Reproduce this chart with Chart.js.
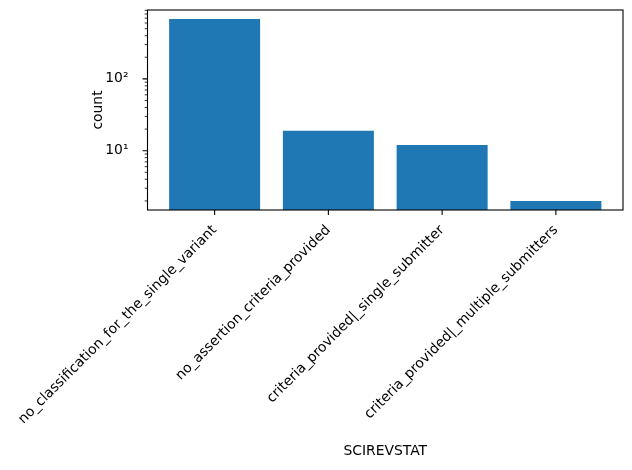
<!DOCTYPE html>
<html>
<head>
<meta charset="utf-8">
<script src="https://cdn.jsdelivr.net/npm/chart.js@4.4.0/dist/chart.umd.min.js"></script>
<style>
  html, body { margin: 0; padding: 0; background: #fff; }
  #wrap { width: 632px; height: 470px; }
</style>
</head>
<body>
<div id="wrap"><canvas id="countChart" width="632" height="470"></canvas></div>
<script>
const categories = [
  'no_classification_for_the_single_variant',
  'no_assertion_criteria_provided',
  'criteria_provided|_single_submitter',
  'criteria_provided|_multiple_submitters',
];
const counts = [680, 19, 12, 2];
const decadeLabels = { 10: '10¹', 100: '10²', 1000: '10³' };

// matplotlib-like limits: 5% margins (log space for y)
const xMin = -0.4 - 0.05 * (categories.length - 0.2);
const xMax = categories.length - 0.6 + 0.05 * (categories.length - 0.2);
const lo = Math.log10(Math.min(...counts));
const hi = Math.log10(Math.max(...counts));
const yMin = Math.pow(10, lo - 0.05 * (hi - lo));
const yMax = Math.pow(10, hi + 0.05 * (hi - lo));

function logTicks(min, max) {
  const out = [];
  for (let e = Math.floor(Math.log10(min)); e <= Math.ceil(Math.log10(max)); e++) {
    for (let m = 1; m < 10; m++) {
      const v = m * Math.pow(10, e);
      if (v >= min && v <= max) out.push({ value: v, major: m === 1 });
    }
  }
  return out;
}

const frame = {
  id: 'frame',
  afterDraw(chart) {
    const { ctx, chartArea: a } = chart;
    const x = chart.scales.x, y = chart.scales.y;
    ctx.save();
    ctx.strokeStyle = '#000';
    ctx.lineWidth = 1.1;
    ctx.strokeRect(a.left, a.top, a.right - a.left, a.bottom - a.top);
    ctx.beginPath();
    x.ticks.forEach(t => {
      const px = x.getPixelForValue(t.value);
      ctx.moveTo(px, a.bottom);
      ctx.lineTo(px, a.bottom + 4.9);
    });
    y.ticks.forEach(t => {
      if (!t.major) return;
      const py = y.getPixelForValue(t.value);
      ctx.moveTo(a.left, py);
      ctx.lineTo(a.left - 4.9, py);
    });
    ctx.stroke();
    ctx.lineWidth = 0.8;
    ctx.beginPath();
    y.ticks.forEach(t => {
      if (t.major) return;
      const py = y.getPixelForValue(t.value);
      ctx.moveTo(a.left, py);
      ctx.lineTo(a.left - 2.8, py);
    });
    ctx.stroke();
    ctx.restore();
  }
};

Chart.defaults.font.family = "'DejaVu Sans', sans-serif";
Chart.defaults.font.size = 13.9;
Chart.defaults.color = '#000';

new Chart(document.getElementById('countChart'), {
  type: 'bar',
  data: {
    datasets: [{
      data: counts.map((v, i) => ({ x: i, y: v })),
      backgroundColor: '#1f77b4',
      barPercentage: 0.8,
      categoryPercentage: 1.0,
    }],
  },
  options: {
    responsive: false,
    animation: false,
    layout: { padding: { top: 10, right: 9, left: 0, bottom: 0 } },
    plugins: { legend: { display: false }, tooltip: { enabled: false } },
    scales: {
      x: {
        type: 'linear',
        offset: false,
        min: xMin,
        max: xMax,
        bounds: 'data',
        grid: { display: false, offset: false },
        border: { display: false },
        afterBuildTicks: s => { s.ticks = categories.map((c, i) => ({ value: i })); },
        afterFit: s => { s.height = 260; s.paddingLeft = 0; s.paddingRight = 0; },
        ticks: {
          autoSkip: false,
          minRotation: 45,
          maxRotation: 45,
          padding: 4,
          callback: v => categories[v],
        },
        title: { display: true, text: 'SCIREVSTAT', padding: { top: 0, bottom: 10 } },
      },
      y: {
        type: 'logarithmic',
        min: yMin,
        max: yMax,
        bounds: 'data',
        grid: { display: false },
        border: { display: false },
        afterBuildTicks: s => { s.ticks = logTicks(yMin, yMax); },
        afterFit: s => { s.width = 147.5; s.paddingTop = 0; s.paddingBottom = 0; },
        ticks: {
          autoSkip: false,
          padding: 11,
          callback: v => decadeLabels[v] || '',
        },
        title: { display: true, text: 'count', padding: { top: 90, bottom: 0 } },
      },
    },
  },
  plugins: [frame],
});
</script>
</body>
</html>
